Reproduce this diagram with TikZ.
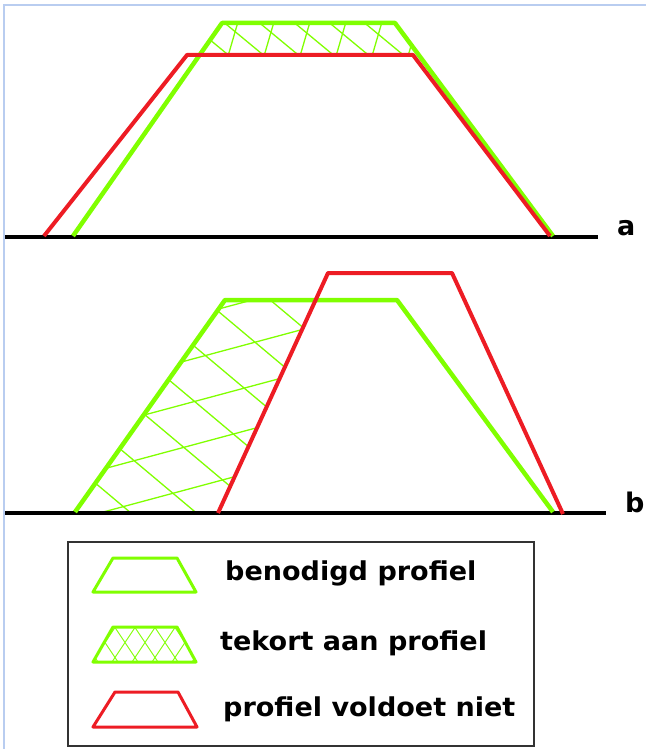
\documentclass[tikz,border=0pt]{standalone}
\usepackage{fontspec}
\setmainfont{DejaVu Sans}
\definecolor{profgreen}{RGB}{128,255,0}
\definecolor{profred}{RGB}{237,28,36}
\definecolor{framblue}{RGB}{185,205,240}
\begin{document}
\begin{tikzpicture}[x=1pt,y=-1pt,
    needed/.style={profgreen, line width=4.5, line join=round},
    actual/.style={profred, line width=4, line join=round},
    hatch/.style={profgreen, line width=1.3},
    ground/.style={black, line width=4},
    legtrap/.style={line width=3, line join=round},
    legtext/.style={anchor=base west, inner sep=0pt, font=\fontsize{26}{30}\selectfont\bfseries, xscale=1.04, transform shape},
    letter/.style={anchor=base west, inner sep=0pt, font=\fontsize{27}{30}\selectfont\bfseries}]
  \useasboundingbox (0,0) rectangle (646,749);
  \draw[framblue, line width=1.5] (4,749) |- (646,5); %frame

  % --- a ---
  \begin{scope}
    \clip (222,23) -- (395,23) -- (419,55) -- (200,55) -- cycle;
    \foreach \x in {204,240,276,312,348,384,420}
      \draw[hatch] (\x,15) -- ++(-14,48);
    \foreach \x in {180,215,250,285,320,355,390}
      \draw[hatch] (\x,15) -- ++(58,48);
  \end{scope}
  \draw[ground] (5,237) coordinate (a0) -- (598,237) coordinate (a1);
  \draw[needed] (73,236) -- (222,23) -- (395,23) -- (553,236);
  \draw[actual] (44,236) -- (187,55) -- (413,55) -- (550,236);
  \node[letter] (la) at (617,235) {a};

  % --- b ---
  \begin{scope}
    \clip (75,513) -- (225,300) -- (315,300) -- (218,513) -- cycle;
    \foreach \y in {357,400,443,486,529,572}
      \draw[hatch] (40,\y) -- ++(320,-86);
    \foreach \c in {18,73,128,183,238,293,348,403,458}
      \draw[hatch] (40,\c+33.6) -- (340,\c+285.6);
  \end{scope}
  \draw[ground] (5,513) coordinate (b0) -- (606,513) coordinate (b1);
  \draw[needed] (75,512) -- (225,300) -- (397,300) -- (553,512);
  \draw[actual] (218,513) -- (328,273) -- (452,273) -- (563,514);
  \node[letter] (lb) at (625,512) {b};

  % --- legend ---
  \draw[black!80, line width=1.5] (68,542) rectangle (534,746);
  \draw[legtrap, profgreen] (93,592) -- (113,558) -- (177,558) -- (196,592) -- cycle;
  \begin{scope}
    \clip (93,662) -- (113,627) -- (177,627) -- (196,662) -- cycle;
    \foreach \x in {70,90,...,210}
      \draw[profgreen, line width=0.9] (\x,620) -- ++(30,45) (\x,665) -- ++(30,-45);
  \end{scope}
  \draw[legtrap, profgreen] (93,662) -- (113,627) -- (177,627) -- (196,662) -- cycle;
  \draw[legtrap, profred] (93,727) -- (115,692) -- (178,692) -- (197,727) -- cycle;
  \node[legtext] (t1) at (225,580) {benodigd profiel};
  \node[legtext] (t2) at (220,650) {tekort aan profiel};
  \node[legtext] (t3) at (223,716) {profiel voldoet niet};
\end{tikzpicture}
\end{document}
